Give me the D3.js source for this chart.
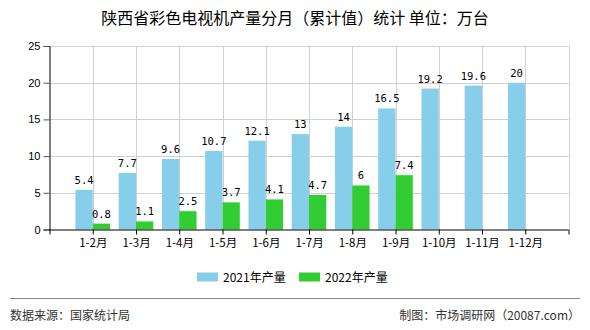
<!DOCTYPE html>
<html>
<head>
<meta charset="utf-8">
<script src="https://cdn.jsdelivr.net/npm/d3@7"></script>
<style>
  html, body { margin: 0; padding: 0; background: #fff; }
  svg { display: block; font-family: "Liberation Sans", "Noto Sans CJK SC", sans-serif; }
</style>
</head>
<body>
<svg id="chart" width="590" height="330"></svg>
<script>
// 陕西省彩色电视机产量分月（累计值）
const months = ["1-2月", "1-3月", "1-4月", "1-5月", "1-6月", "1-7月", "1-8月", "1-9月", "1-10月", "1-11月", "1-12月"];
const output2021 = [5.4, 7.7, 9.6, 10.7, 12.1, 13, 14, 16.5, 19.2, 19.6, 20];
const output2022 = [0.8, 1.1, 2.5, 3.7, 4.1, 4.7, 6, 7.4];
const yTicks = [0, 5, 10, 15, 20, 25];
const seriesNames = ["2021年产量", "2022年产量"];
const seriesColors = ["#87CEEB", "#32CD32"];

const svg = d3.select("#chart");
const plot = { left: 49.5, right: 568.5, top: 46, bottom: 229.5 };

// slots: an empty one before the first month and after the last
const x = d3.scalePoint()
  .domain(["", ...months, " "])
  .range([plot.left, plot.right]);
const step = x.step();
const barW = step * 0.4;

const y = d3.scaleLinear().domain([0, 25]).range([plot.bottom, plot.top]);

// title
svg.append("text")
  .attr("x", 295).attr("y", 24)
  .attr("text-anchor", "middle")
  .style("font-family", "'Noto Sans CJK SC'")
  .style("font-size", "16px")
  .attr("fill", "#000")
  .text("陕西省彩色电视机产量分月（累计值）统计 单位：万台");

// horizontal grid
svg.append("g").selectAll("line").data(yTicks.filter(d => d > 0)).join("line")
  .attr("x1", plot.left).attr("x2", plot.right)
  .attr("y1", d => Math.round(y(d)) + 0.5).attr("y2", d => Math.round(y(d)) + 0.5)
  .attr("stroke", "#d0d0d0").attr("stroke-width", 1);

// vertical grid at each month and at the right edge
svg.append("g").selectAll("line").data([...months, " "]).join("line")
  .attr("x1", d => Math.round(x(d)) + 0.5).attr("x2", d => Math.round(x(d)) + 0.5)
  .attr("y1", plot.top).attr("y2", plot.bottom)
  .attr("stroke", "#d0d0d0").attr("stroke-width", 1);

// bars
const series = [output2021, output2022];
series.forEach((vals, si) => {
  const g = svg.append("g");
  const data = vals.map((v, i) => ({ m: months[i], v }));
  g.selectAll("rect").data(data).join("rect")
    .attr("x", d => si === 0 ? x(d.m) - barW : x(d.m))
    .attr("y", d => y(d.v))
    .attr("width", barW)
    .attr("height", d => y(0) - y(d.v))
    .attr("fill", seriesColors[si]);
  g.selectAll("text").data(data).join("text")
    .attr("x", d => (si === 0 ? x(d.m) - barW / 2 : x(d.m) + barW / 2))
    .attr("y", d => y(d.v) - 6)
    .attr("text-anchor", "middle")
    .style("font-family", "'DejaVu Sans Mono'")
    .style("font-size", "10.5px")
    .attr("fill", "#000")
    .text(d => d.v);
});

// y axis
const yAxis = d3.axisLeft(y).tickValues(yTicks).tickSize(6).tickPadding(3);
const gy = svg.append("g").attr("transform", `translate(${plot.left},0)`).call(yAxis);
gy.attr("font-family", null).attr("font-size", null);
gy.select(".domain").attr("stroke", "#000");
gy.selectAll(".tick line").attr("stroke", "#555");
gy.selectAll(".tick text").style("font-family", "'Liberation Sans'").style("font-size", "11px").attr("fill", "#000");

// x axis
const xAxis = d3.axisBottom(x).tickSize(5).tickPadding(4).tickFormat(d => d.trim());
const gx = svg.append("g").attr("transform", `translate(0,${plot.bottom})`).call(xAxis);
gx.attr("font-family", null).attr("font-size", null);
gx.select(".domain").attr("stroke", "#000").attr("d", `M${plot.left},0.5H${plot.right}`);
gx.selectAll(".tick line").attr("stroke", "#000");
gx.selectAll(".tick text").style("font-family", "'Noto Sans CJK SC'").style("font-size", "11.5px").attr("fill", "#000");

// legend
const legend = svg.append("g");
const legendX = [197, 299];
seriesNames.forEach((name, i) => {
  legend.append("rect").attr("x", legendX[i]).attr("y", 272.5).attr("width", 21).attr("height", 9).attr("fill", seriesColors[i]);
  legend.append("text").attr("x", legendX[i] + 26).attr("y", 281.5)
    .style("font-family", "'Noto Sans CJK SC'").style("font-size", "12px").attr("fill", "#000").text(name);
});

// footer
svg.append("line").attr("x1", 10).attr("x2", 580).attr("y1", 298.5).attr("y2", 298.5)
  .attr("stroke", "#888").attr("stroke-width", 1);
svg.append("text").attr("x", 10).attr("y", 320)
  .style("font-family", "'Noto Sans CJK SC'").style("font-size", "12px").attr("fill", "#333")
  .text("数据来源：国家统计局");
svg.append("text").attr("x", 580).attr("y", 320).attr("text-anchor", "end")
  .style("font-family", "'Noto Sans CJK SC'").style("font-size", "12px").attr("fill", "#333")
  .text("制图：市场调研网（20087.com）");
</script>
</body>
</html>
